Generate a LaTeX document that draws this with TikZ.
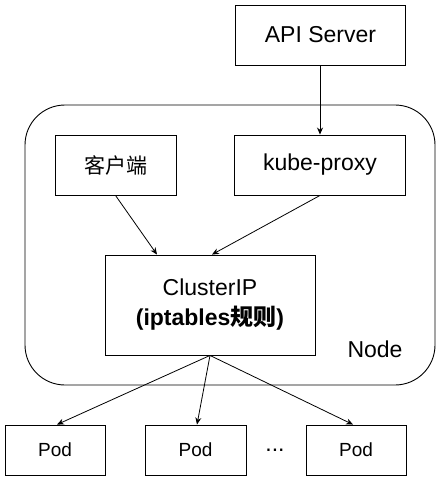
\documentclass[tikz,border=0pt]{standalone}
\usepackage{fontspec}
\setmainfont{Liberation Sans}
\newfontfamily\cjk{Noto Sans CJK SC}
\usetikzlibrary{arrows.meta}
\begin{document}
\begin{tikzpicture}[x=1pt,y=-1pt,
  box/.style={draw=black,line width=0.9pt,rectangle,inner sep=0pt,align=center,font=\fontsize{23}{30}\selectfont},
  conn/.style={draw=black,line width=0.8pt,-{Stealth[length=7pt,width=6pt]}},
  podbox/.style={box,minimum width=100pt,minimum height=50pt,font=\fontsize{19}{23}\selectfont}]
\useasboundingbox (0,0) rectangle (441,481);
\draw[line width=0.9pt,rounded corners=40pt] (25,105) rectangle (435,385);
\node[box,minimum width=170pt,minimum height=60pt] (api) at (320.5,35) {API Server};
\node[box,minimum width=171pt,minimum height=60pt] (kube) at (320,165) {kube-proxy};
\node[box,minimum width=121pt,minimum height=60pt,font=\fontsize{21}{25}\selectfont\cjk] (client) at (115.5,165) {客户端};
\node[box,minimum width=210pt,minimum height=100pt] (cip) at (210,305) {ClusterIP\\\textbf{(iptables{\cjk 规则})}};
\node[font=\fontsize{23}{28}\selectfont,inner sep=0pt] (nodelabel) at (375,349) {Node};
\node[podbox] (pod1) at (55,450) {Pod};
\node[podbox,minimum width=101pt] (pod2) at (195.5,450) {Pod};
\node[podbox] (pod3) at (356,450) {Pod};
\node[font=\fontsize{23}{28}\selectfont,inner sep=0pt,anchor=base] (dots) at (275,451) {...};
\draw[conn] (kube.north |- api.south) -- (kube.north);
\draw[conn] (client.south) -- ([xshift=-53pt]cip.north);
\draw[conn] (kube.south) -- ([xshift=2pt]cip.north);
\draw[conn] (cip.south) -- ([xshift=2pt]pod1.north);
\draw[conn] (cip.south) -- ([xshift=1.5pt]pod2.north);
\draw[conn] (cip.south) -- ([xshift=-3pt]pod3.north);
\end{tikzpicture}
\end{document}
